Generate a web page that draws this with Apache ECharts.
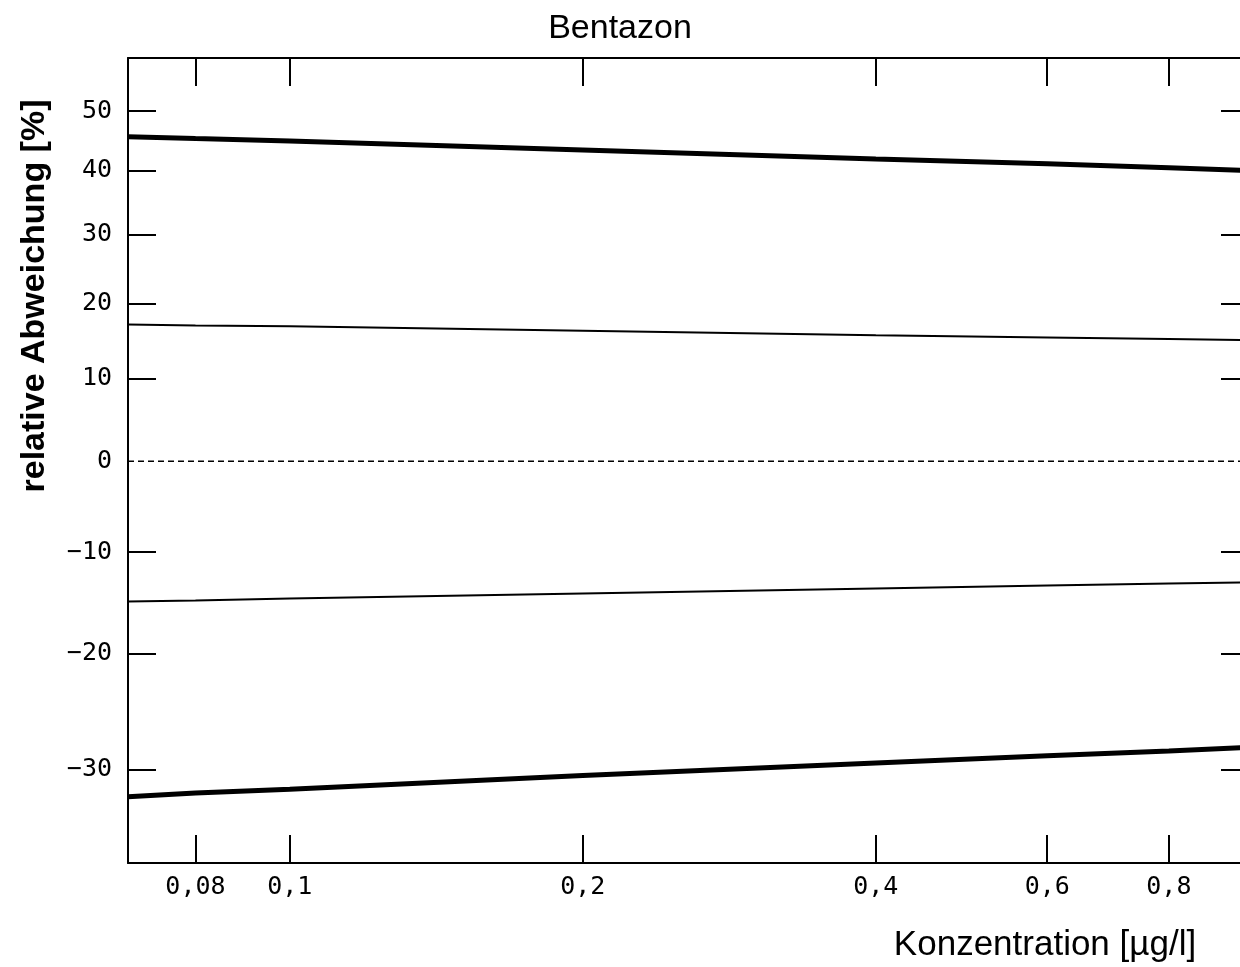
<!DOCTYPE html>
<html>
<head>
<meta charset="utf-8">
<script src="https://cdn.jsdelivr.net/npm/echarts@6/dist/echarts.min.js"></script>
<style>html,body{margin:0;padding:0;background:#fff;}#chart{width:1240px;height:967px;}</style>
</head>
<body>
<div id="chart"></div>
<script>
// ---- data ----
const titleText = 'Bentazon';
const xName = 'Konzentration [µg/l]';
const yName = 'relative Abweichung [%]';
const xTicks = [0.08, 0.1, 0.2, 0.4, 0.6, 0.8];
const xTickLabels = ['0,08', '0,1', '0,2', '0,4', '0,6', '0,8'];
const yTicks = [-30, -20, -10, 0, 10, 20, 30, 40, 50];
const xRange = [0.0682, 0.967];
const yRange = [-37.2, 59.5];
const conc = [0.0682, 0.08, 0.1, 0.2, 0.4, 0.6, 0.8, 0.967];
const upperOuter = [45.6, 45.3, 44.9, 43.4, 41.9, 41.1, 40.45, 40.0];
const upperInner = [17.15, 17.0, 16.9, 16.3, 15.7, 15.4, 15.2, 15.05];
const lowerInner = [-15.0, -14.9, -14.7, -14.2, -13.7, -13.4, -13.2, -13.1];
const lowerOuter = [-32.2, -31.9, -31.6, -30.5, -29.5, -28.9, -28.5, -28.2];
const zeroConc = [0.0682, 0.967];
const zeroVals = [0, 0];

// ---- scale transforms ----
const tx = v => Math.log10(v);
const ty = v => Math.log(1 + v / 100);
const pairs = (xs, ys) => xs.map((x, i) => [tx(x), ty(ys[i])]);

const monoFont = { fontFamily: 'DejaVu Sans Mono', fontSize: 25, color: '#000' };
const xLabelFmt = v => {
  let best = 0, bd = Infinity;
  xTicks.forEach((t, i) => { const d = Math.abs(tx(t) - v); if (d < bd) { bd = d; best = i; } });
  return xTickLabels[best];
};
const yLabelFmt = v => {
  const p = Math.round((Math.exp(v) - 1) * 100);
  return p < 0 ? '\u2212' + Math.abs(p) : String(p);
};

const chart = echarts.init(document.getElementById('chart'), null, { renderer: 'canvas' });
const xCommon = {
  type: 'value', min: tx(xRange[0]), max: tx(xRange[1]),
  axisLine: { show: true, onZero: false, lineStyle: { color: '#000', width: 2 } },
  axisTick: { show: true, inside: true, length: 28, lineStyle: { color: '#000', width: 2 }, customValues: xTicks.map(tx) },
  splitLine: { show: false }
};
const yTickVals = yTicks.filter(t => t !== 0).map(ty);
const yCommon = {
  type: 'value', min: ty(yRange[0]), max: ty(yRange[1]),
  axisLine: { show: true, onZero: false, lineStyle: { color: '#000', width: 2 } },
  axisTick: { show: true, inside: true, length: 28, lineStyle: { color: '#000', width: 2 }, customValues: yTickVals },
  splitLine: { show: false }
};
const lineSeries = (data, w, dashed) => ({
  type: 'line', data: data, showSymbol: false, symbol: 'none', silent: true,
  lineStyle: { color: '#000', width: w, type: dashed ? [6, 4] : 'solid' },
  animation: false, xAxisIndex: 0, yAxisIndex: 0
});

chart.setOption({
  animation: false,
  backgroundColor: '#fff',
  title: {
    text: titleText, left: 'center', top: 7,
    textStyle: { fontFamily: 'Liberation Sans, Arial, sans-serif', fontSize: 34, fontWeight: 'normal', color: '#000' }
  },
  grid: { left: 128, right: -9, top: 58, bottom: 104, containLabel: false, outerBoundsMode: 'none' },
  xAxis: [
    Object.assign({}, xCommon, {
      position: 'bottom',
      axisLabel: Object.assign({ show: true, margin: 12, formatter: xLabelFmt, customValues: xTicks.map(tx) }, monoFont)
    }),
    Object.assign({}, xCommon, { position: 'top', axisLabel: { show: false } })
  ],
  yAxis: [
    Object.assign({}, yCommon, {
      position: 'left',
      axisLabel: Object.assign({ show: true, margin: 16, formatter: yLabelFmt, customValues: yTicks.map(ty) }, monoFont)
    }),
    Object.assign({}, yCommon, { position: 'right', axisLabel: { show: false } })
  ],
  graphic: [
    {
      type: 'text', x: 35, y: 296, rotation: Math.PI / 2,
      style: { text: yName, align: 'center', verticalAlign: 'middle', font: 'bold 34px "Liberation Sans", Arial, sans-serif', fill: '#000' }
    },
    {
      type: 'text', x: 1045, y: 945,
      style: { text: xName, align: 'center', verticalAlign: 'middle', font: '35px "Liberation Sans", Arial, sans-serif', fill: '#000' }
    }
  ],
  series: [
    lineSeries(pairs(zeroConc, zeroVals), 1.5, true),
    lineSeries(pairs(conc, upperOuter), 5, false),
    lineSeries(pairs(conc, upperInner), 2, false),
    lineSeries(pairs(conc, lowerInner), 2, false),
    lineSeries(pairs(conc, lowerOuter), 5, false)
  ]
});
</script>
</body>
</html>
